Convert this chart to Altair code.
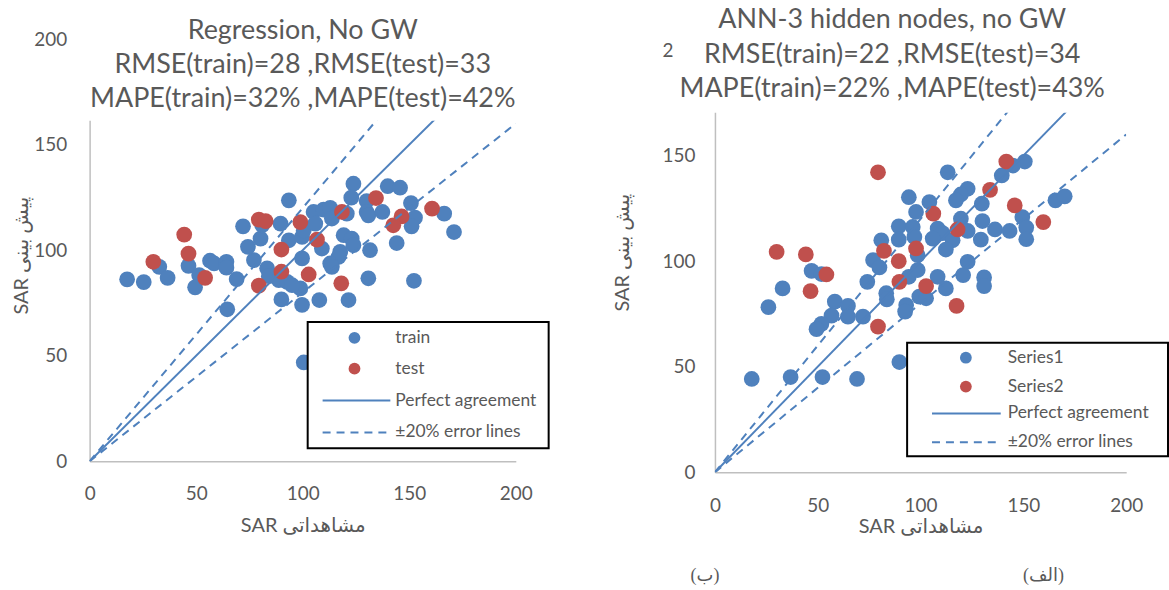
import altair as alt
import pandas as pd

# ---------------- data ----------------
left_train_x = [17.6, 25.4, 32.7, 36.6, 46.4, 51.4, 49.5, 56.5, 58.4, 64.2, 64.2, 69.0, 64.6, 72.0, 77.1,
                74.3, 80.2, 81.0, 83.3, 84.1, 89.6, 90.0, 88.8, 93.5, 123.8, 139.9, 145.7, 122.8, 130.0, 105.1,
                109.8, 112.9, 113.7, 120.7, 130.0, 130.8, 137.4, 150.8, 152.7, 151.1, 166.4, 171.0, 93.5, 99.7, 100.5,
                105.9, 109.0, 119.2, 123.0, 123.8, 117.6, 116.8, 112.9, 113.7, 131.6, 144.1, 99.7, 92.7, 98.9, 99.7,
                107.8, 121.5, 130.8, 152.2, 100.5, 95.0]
left_train_y = [86.2, 84.9, 92.1, 86.9, 92.6, 88.2, 82.4, 95.0, 93.7, 94.5, 91.7, 86.3, 72.0, 111.3, 95.3,
                101.6, 105.5, 111.8, 91.4, 87.7, 112.6, 76.7, 85.8, 123.6, 131.5, 130.3, 129.6, 124.9, 123.3, 118.1,
                119.2, 120.1, 115.0, 117.3, 118.1, 116.5, 118.1, 122.3, 115.4, 111.3, 117.3, 108.6, 104.7, 106.3, 109.4,
                112.6, 100.8, 107.1, 105.5, 102.4, 99.2, 96.8, 93.7, 92.1, 100.0, 103.4, 96.1, 85.0, 81.9, 74.1,
                76.4, 76.4, 86.7, 85.5, 46.8, 83.4]
left_test_x = [29.9, 44.4, 46.4, 54.2, 79.4, 82.6, 79.4, 90.0, 90.0, 134.4, 118.4, 98.9, 106.7, 146.4, 142.5,
               160.7, 102.8, 118.1]
left_test_y = [94.5, 107.4, 98.4, 86.9, 114.5, 113.8, 83.2, 100.3, 89.8, 124.7, 118.1, 113.3, 105.0, 116.0, 111.8,
               119.7, 88.5, 84.3]

right_s1_x = [17.9, 36.8, 52.3, 69.1, 89.7, 26.0, 32.9, 47.0, 51.8, 58.3, 64.7, 64.7, 56.7, 51.8, 49.4,
              72.0, 74.1, 76.9, 80.0, 80.9, 83.3, 83.6, 89.4, 89.4, 94.3, 93.0, 92.5, 94.3, 96.2, 97.0,
              97.8, 113.2, 150.7, 144.9, 139.5, 122.9, 119.6, 117.2, 129.8, 104.3, 119.6, 130.1, 108.3, 110.7, 105.9,
              115.6, 122.9, 129.3, 136.2, 143.3, 149.5, 151.4, 151.4, 165.6, 170.1, 112.3, 98.6, 98.6, 122.9, 120.7,
              108.3, 112.3, 130.9, 130.9, 99.4, 102.7]
right_s1_y = [44.2, 45.1, 45.1, 44.2, 52.2, 78.2, 87.1, 95.4, 93.9, 80.8, 78.8, 73.7, 74.2, 70.3, 67.8,
              73.7, 90.2, 100.5, 97.0, 109.9, 84.8, 81.9, 116.5, 110.2, 130.3, 79.2, 76.1, 92.6, 116.2, 111.5,
              123.3, 142.1, 147.2, 145.3, 140.6, 134.3, 131.6, 128.8, 127.2, 128.0, 120.1, 119.0, 115.4, 113.3, 110.7,
              109.9, 114.3, 110.2, 115.0, 114.3, 120.9, 115.9, 110.4, 128.8, 130.7, 105.5, 102.8, 95.8, 99.7, 93.4,
              92.6, 87.1, 92.3, 88.2, 83.2, 82.4]
right_s2_x = [79.3, 30.0, 44.2, 54.2, 46.5, 82.2, 89.4, 89.7, 79.3, 97.8, 141.7, 133.8, 106.2, 145.8, 159.7,
              118.0, 102.7, 117.5]
right_s2_y = [142.1, 104.4, 103.2, 93.7, 85.8, 104.9, 100.0, 90.2, 69.0, 106.0, 147.2, 133.8, 122.5, 126.4, 118.5,
              115.0, 88.2, 78.8]

axis_ticks = [0, 50, 100, 150, 200]
line_x = [0, 200]
perfect_y = [0, 200]
upper_y = [0, 240]   # +20 %
lower_y = [0, 160]   # -20 %

left_titles = ["Regression, No GW", "RMSE(train)=28 ,RMSE(test)=33", "MAPE(train)=32% ,MAPE(test)=42%"]
right_titles = ["ANN-3 hidden nodes, no GW", "RMSE(train)=22 ,RMSE(test)=34", "MAPE(train)=22% ,MAPE(test)=43%"]
left_series = ["train", "test"]
right_series = ["Series1", "Series2"]
line_labels = ["Perfect agreement", "±20% error lines"]
x_title = "SAR مشاهداتی"
y_title = "SAR پیش بینی"
panel_tags = ["(ب)", "(الف)"]

BLUE = "#4F81BD"
RED = "#C0504D"
GRAY = "#595959"
FONT = "Lato, 'DejaVu Sans', sans-serif"
DASH = [8, 6]

one = pd.DataFrame({"a": [0]})


def vrect(x1, x2, y1, y2, **kw):
    return alt.Chart(one).mark_rect(**kw).encode(
        x=alt.value(x1), x2=alt.value(x2), y=alt.value(y1), y2=alt.value(y2))


def vtext(txt, x, y, size, align="left", font=FONT):
    return alt.Chart(one).mark_text(align=align, baseline="middle", font=font, fontSize=size,
                                    color=GRAY).encode(x=alt.value(x), y=alt.value(y), text=alt.value(txt))


def panel(tx, ty, sx, sy, names, titles, W, H, ymax, g):
    xenc = alt.X("x:Q", scale=alt.Scale(domain=[0, 200], nice=False, zero=False),
                 axis=alt.Axis(values=axis_ticks, title=x_title, labelPadding=g["xlp"],
                               titleY=g["xty"], titleBaseline="middle"))
    yenc = alt.Y("y:Q", scale=alt.Scale(domain=[0, ymax], nice=False, zero=False),
                 axis=alt.Axis(values=axis_ticks, title=y_title, labelPadding=g["ylp"],
                               titleX=g["ytx"], titleY=g["yty"], titleBaseline="middle",
                               titleAlign="center"))
    pts = pd.DataFrame({"x": tx + sx, "y": ty + sy,
                        "s": [names[0]] * len(tx) + [names[1]] * len(sx)})
    points = alt.Chart(pts).mark_circle(size=250, opacity=1).encode(
        x=xenc, y=yenc,
        color=alt.Color("s:N", scale=alt.Scale(domain=names, range=[BLUE, RED]), legend=None))
    solid_df = pd.DataFrame({"x": line_x, "y": perfect_y})
    dash_df = pd.DataFrame({"x": line_x + line_x, "y": upper_y + lower_y, "k": ["u", "u", "l", "l"]})
    solid = alt.Chart(solid_df).mark_line(clip=True, color=BLUE, strokeWidth=2).encode(x=xenc, y=yenc)
    dashed = alt.Chart(dash_df).mark_line(clip=True, color=BLUE, strokeWidth=2, strokeDash=DASH).encode(
        x=xenc, y=yenc, detail="k:N")

    layers = []
    if g.get("frame"):
        layers.append(vrect(-90, 1079, -38, 552, fill="white", fillOpacity=0, strokeOpacity=0))
    layers += [points, solid, dashed]
    # title area (white box over the top of the plot, as in the original)
    m = g["mask"]
    layers.append(vrect(m[0], m[1], -38, m[2], fill="white"))
    for t, yy in zip(titles, g["title_y"]):
        layers.append(vtext(t, g["title_x"], yy, 27, align="center"))
    # legend
    b = g["box"]
    layers.append(vrect(b[0], b[1], b[2], b[3], fill="white", stroke="black", strokeWidth=2))
    lx = g["leg"]
    layers.append(alt.Chart(one).mark_circle(size=140, opacity=1, color=BLUE).encode(
        x=alt.value(lx["dot"]), y=alt.value(lx["rows"][0])))
    layers.append(alt.Chart(one).mark_circle(size=140, opacity=1, color=RED).encode(
        x=alt.value(lx["dot"]), y=alt.value(lx["rows"][1])))
    layers.append(alt.Chart(one).mark_rule(color=BLUE, strokeWidth=2).encode(
        x=alt.value(lx["l1"]), x2=alt.value(lx["l2"]), y=alt.value(lx["rows"][2])))
    layers.append(alt.Chart(one).mark_rule(color=BLUE, strokeWidth=2, strokeDash=DASH).encode(
        x=alt.value(lx["l1"]), x2=alt.value(lx["l2"]), y=alt.value(lx["rows"][3])))
    for t, yy in zip(names + line_labels, lx["rows"]):
        layers.append(vtext(t, lx["text"], yy, 17.5))
    for t, pos in zip(g.get("tags_text", []), g.get("tags", [])):
        layers.append(vtext(t, pos[0], pos[1], 18, align="center",
                            font="'Liberation Serif', 'DejaVu Sans', serif"))
    return alt.layer(*layers).properties(width=W, height=H)


left_geo = dict(frame=True, xlp=23, xty=65, ylp=23, ytx=-68, yty=217,
                mask=(-10, 445, 82), title_x=214, title_y=[-8, 26, 60],
                box=(219, 461, 284, 411),
                leg=dict(dot=266, text=307, l1=234, l2=302, rows=[300, 331, 363, 395]))
right_geo = dict(xlp=24, xty=55, ylp=20, ytx=-93, yty=214,
                 mask=(-42, 420, 74), title_x=178, title_y=[-19, 16, 50],
                 box=(193, 455, 305, 419),
                 leg=dict(dot=252, text=294, l1=218, l2=287, rows=[320, 349, 376, 405]),
                 tags_text=panel_tags, tags=[(-10, 539), (330, 539)])

left = panel(left_train_x, left_train_y, left_test_x, left_test_y, left_series, left_titles,
             428, 424, 200, left_geo)
right = panel(right_s1_x, right_s1_y, right_s2_x, right_s2_y, right_series, right_titles,
              413, 435, 205.2, right_geo)

chart = alt.hconcat(left, right, spacing=200, bounds="flush").properties(
    padding=0, background="white"
).configure_view(stroke=None).configure_axis(
    domainColor="#BFBFBF", domainWidth=1.5, ticks=False, tickSize=0, grid=False,
    labelFont=FONT, labelFontSize=19, labelColor=GRAY, labelFlush=False, labelOverlap=False,
    titleFont=FONT, titleFontSize=20, titleColor=GRAY, titleFontWeight="normal"
)

chart.save("out.html", embed_options={"renderer": "svg", "actions": False})
